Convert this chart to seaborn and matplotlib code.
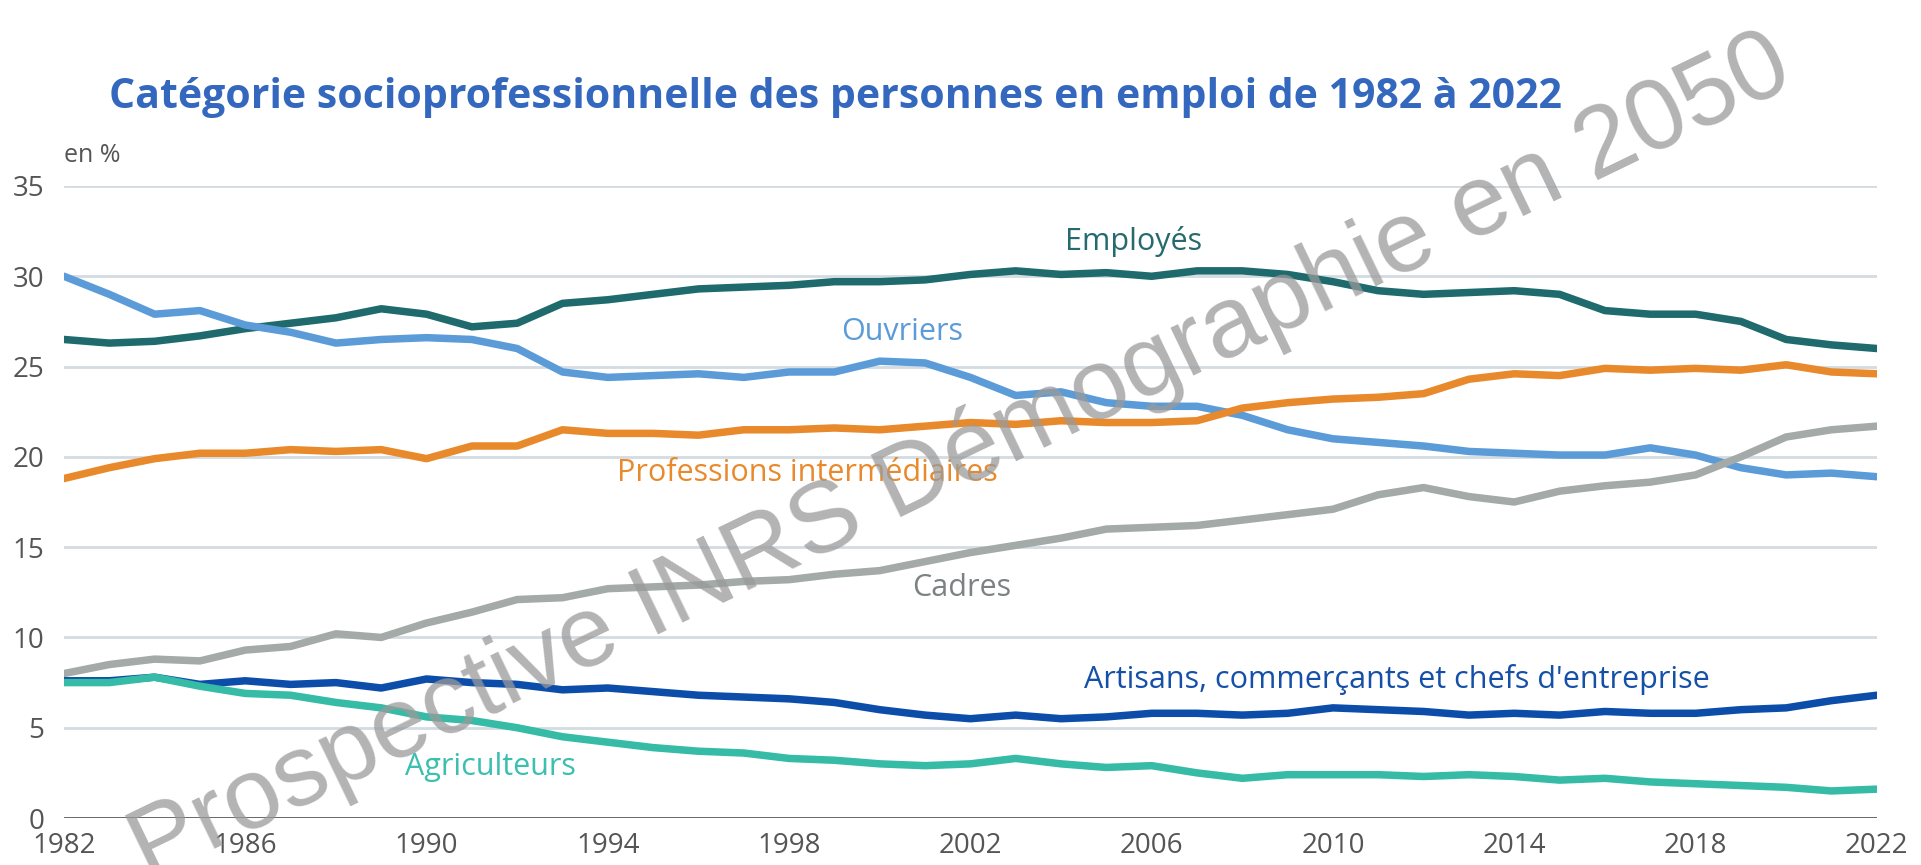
import pandas as pd
import numpy as np
import matplotlib
matplotlib.use('Agg')
import matplotlib.pyplot as plt
import seaborn as sns

# Données (en %)
years = list(range(1982, 2023))

employes = [26.5, 26.3, 26.4, 26.7, 27.1, 27.4, 27.7, 28.2, 27.9, 27.2,
            27.4, 28.5, 28.7, 29.0, 29.3, 29.4, 29.5, 29.7, 29.7, 29.8,
            30.1, 30.3, 30.1, 30.2, 30.0, 30.3, 30.3, 30.1, 29.7, 29.2,
            29.0, 29.1, 29.2, 29.0, 28.1, 27.9, 27.9, 27.5, 26.5, 26.2, 26.0]
ouvriers = [30.0, 29.0, 27.9, 28.1, 27.3, 26.9, 26.3, 26.5, 26.6, 26.5,
            26.0, 24.7, 24.4, 24.5, 24.6, 24.4, 24.7, 24.7, 25.3, 25.2,
            24.4, 23.4, 23.6, 23.0, 22.8, 22.8, 22.3, 21.5, 21.0, 20.8,
            20.6, 20.3, 20.2, 20.1, 20.1, 20.5, 20.1, 19.4, 19.0, 19.1, 18.9]
prof_inter = [18.8, 19.4, 19.9, 20.2, 20.2, 20.4, 20.3, 20.4, 19.9, 20.6,
              20.6, 21.5, 21.3, 21.3, 21.2, 21.5, 21.5, 21.6, 21.5, 21.7,
              21.9, 21.8, 22.0, 21.9, 21.9, 22.0, 22.7, 23.0, 23.2, 23.3,
              23.5, 24.3, 24.6, 24.5, 24.9, 24.8, 24.9, 24.8, 25.1, 24.7, 24.6]
cadres = [8.0, 8.5, 8.8, 8.7, 9.3, 9.5, 10.2, 10.0, 10.8, 11.4,
          12.1, 12.2, 12.7, 12.8, 12.9, 13.1, 13.2, 13.5, 13.7, 14.2,
          14.7, 15.1, 15.5, 16.0, 16.1, 16.2, 16.5, 16.8, 17.1, 17.9,
          18.3, 17.8, 17.5, 18.1, 18.4, 18.6, 19.0, 20.0, 21.1, 21.5, 21.7]
artisans = [7.6, 7.6, 7.8, 7.4, 7.6, 7.4, 7.5, 7.2, 7.7, 7.5,
            7.4, 7.1, 7.2, 7.0, 6.8, 6.7, 6.6, 6.4, 6.0, 5.7,
            5.5, 5.7, 5.5, 5.6, 5.8, 5.8, 5.7, 5.8, 6.1, 6.0,
            5.9, 5.7, 5.8, 5.7, 5.9, 5.8, 5.8, 6.0, 6.1, 6.5, 6.8]
agriculteurs = [7.5, 7.5, 7.8, 7.3, 6.9, 6.8, 6.4, 6.1, 5.6, 5.4,
                5.0, 4.5, 4.2, 3.9, 3.7, 3.6, 3.3, 3.2, 3.0, 2.9,
                3.0, 3.3, 3.0, 2.8, 2.9, 2.5, 2.2, 2.4, 2.4, 2.4,
                2.3, 2.4, 2.3, 2.1, 2.2, 2.0, 1.9, 1.8, 1.7, 1.5, 1.6]

categories = ['Employés', 'Ouvriers', 'Professions intermédiaires', 'Cadres',
              "Artisans, commerçants et chefs d'entreprise", 'Agriculteurs']
series = [employes, ouvriers, prof_inter, cadres, artisans, agriculteurs]
line_colors = ['#1E6A6C', '#5B9BD8', '#E8892B', '#A4AAA8', '#0C4DAA', '#35BBA6']
text_colors = ['#256B6E', '#5B9BD8', '#E8892B', '#7C8283', '#1550A8', '#3BBFAE']
# position des étiquettes (année, valeur)
label_x = [2005.6, 2000.5, 1998.4, 2001.8, 2011.4, 1991.4]
label_y = [31.9, 26.9, 19.1, 12.75, 7.67, 2.85]

df = pd.DataFrame({
    'Année': np.tile(years, len(categories)),
    'Catégorie': np.repeat(categories, len(years)),
    'Valeur': np.concatenate(series),
})

sns.set_style('white')
plt.rcParams['font.family'] = ['Open Sans', 'DejaVu Sans']

fig = plt.figure(figsize=(19.21, 8.65), dpi=100)
ax = fig.add_axes([0.0333, 0.0543, 0.9437, 0.7307])

for y in range(5, 40, 5):
    ax.axhline(y, color='#D4DCE1', lw=2, zorder=0)
ax.axhline(0, color='#5A5A5A', lw=2, zorder=1)

sns.lineplot(data=df, x='Année', y='Valeur', hue='Catégorie',
             palette=dict(zip(categories, line_colors)), lw=5.4,
             legend=False, ax=ax, zorder=3)

ax.set_xlim(1982, 2022)
ax.set_ylim(0, 35)
ax.set_xticks(range(1982, 2023, 4))
ax.set_yticks(range(0, 36, 5))
ax.tick_params(axis='both', length=0, labelsize=20, labelcolor='#555555')
ax.tick_params(axis='y', pad=14)
ax.tick_params(axis='x', pad=10)
ax.set_xlabel('')
ax.set_ylabel('')
for s in ax.spines.values():
    s.set_visible(False)

for name, c, lx, ly in zip(categories, text_colors, label_x, label_y):
    ax.text(lx, ly, name, color=c, fontsize=22, ha='center', va='center', zorder=4)

ax.text(1982, 36.7, 'en %', color='#555555', fontsize=18, ha='left', va='center',
        clip_on=False)

fig.text(0.057, 0.887, 'Catégorie socioprofessionnelle des personnes en emploi de 1982 à 2022',
         color='#3468BE', fontsize=29.5, fontweight='bold', ha='left', va='center')

# filigrane
fig.text(0.50, 0.47, 'Prospective INRS Démographie en 2050', color='#9A9A9A', alpha=0.75,
         fontsize=73, rotation=25.8, ha='center', va='center', rotation_mode='anchor',
         family=['Liberation Sans', 'DejaVu Sans'], zorder=10)

fig.savefig('out.png', dpi=100)
